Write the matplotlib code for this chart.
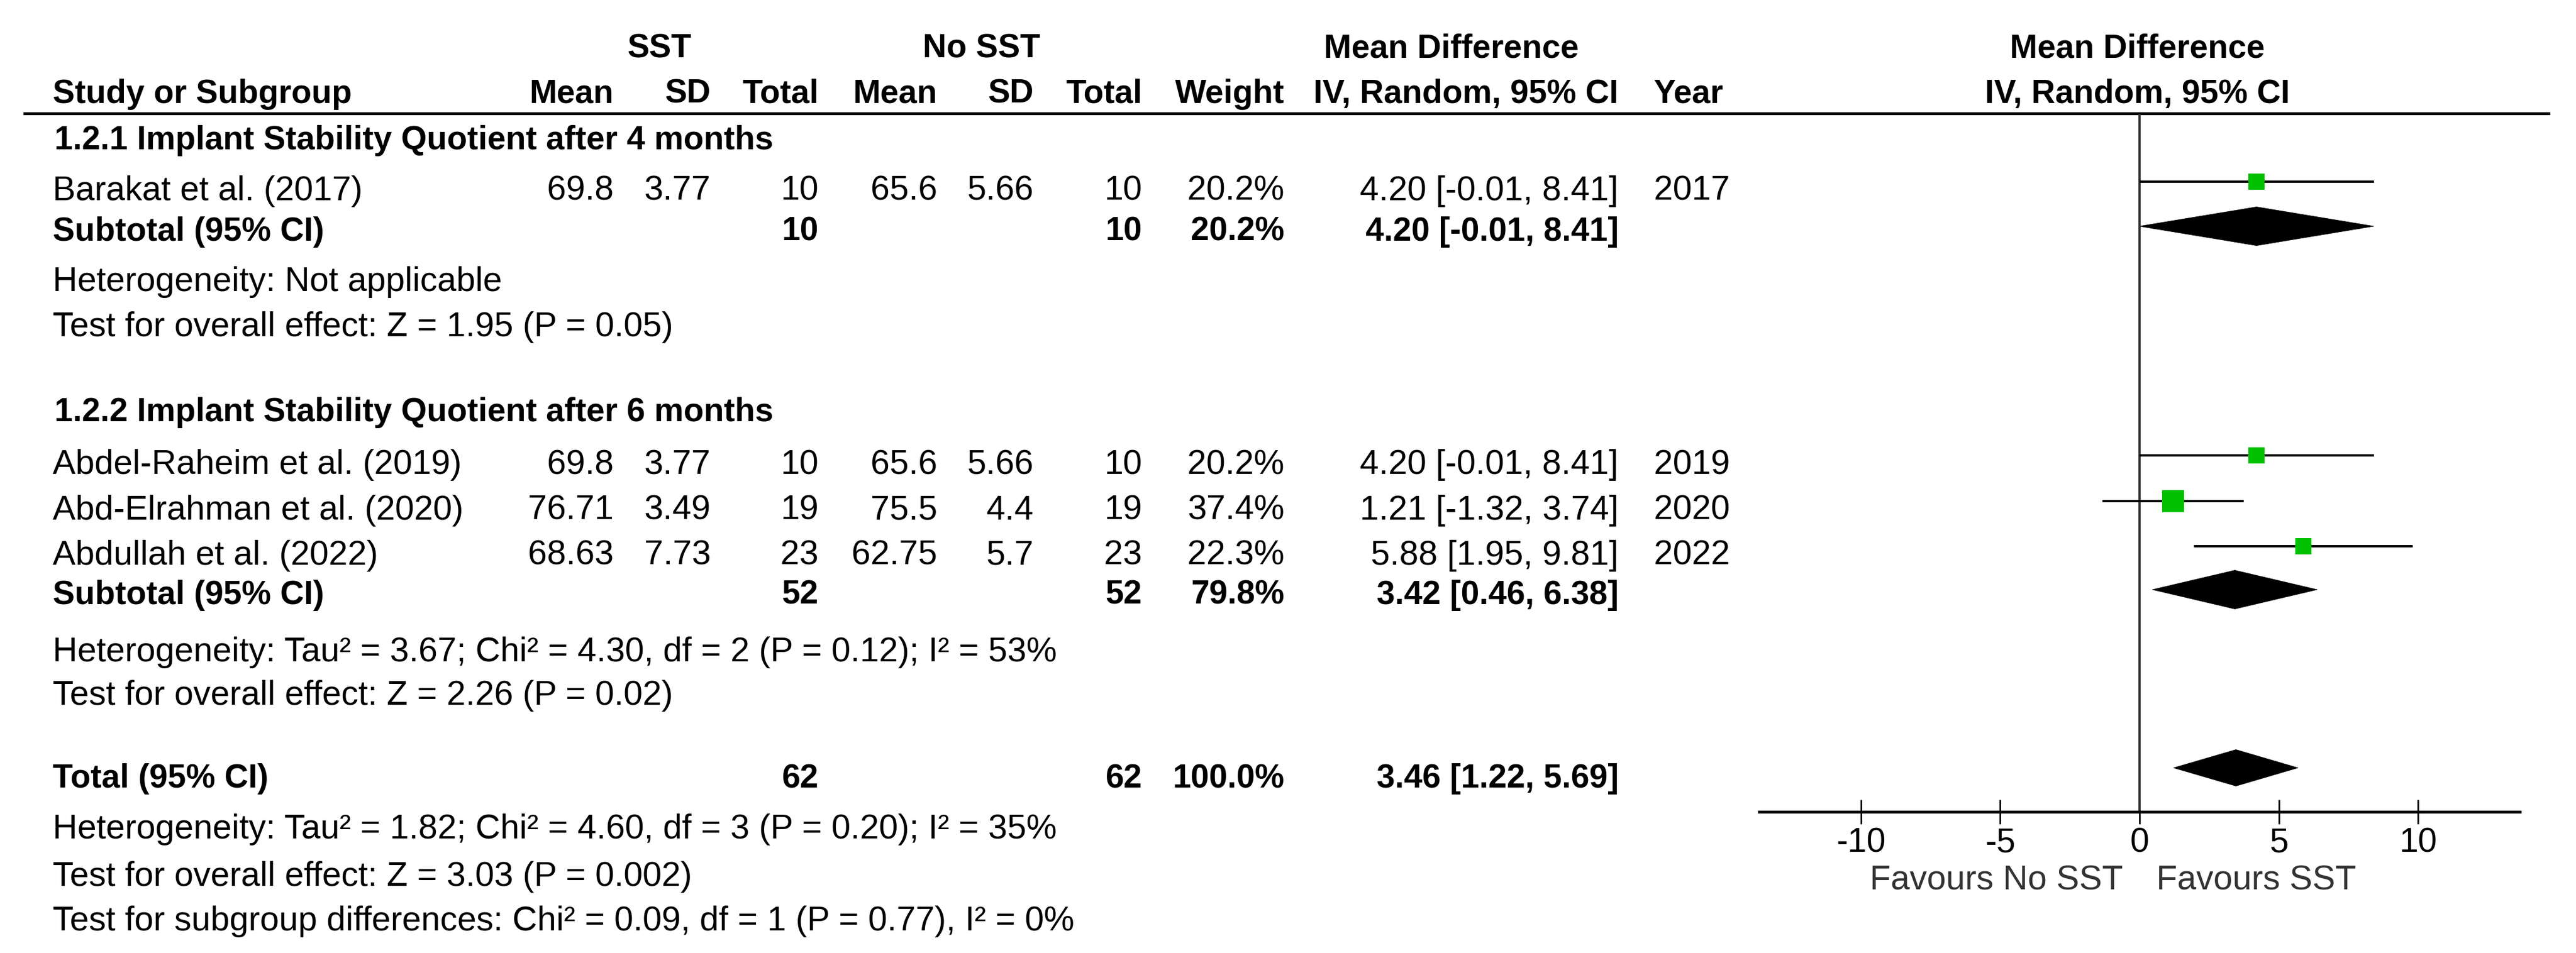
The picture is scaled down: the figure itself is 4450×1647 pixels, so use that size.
import matplotlib
matplotlib.use("Agg")
import matplotlib.pyplot as plt
from matplotlib.patches import Polygon

plt.rcParams['font.family'] = ['Liberation Sans', 'DejaVu Sans']
plt.rcParams['axes.unicode_minus'] = False

W, H = 4450, 1647
FS = 42.6      # regular text
FS_B = 41.0    # bold text

# study level data
studies = ["Barakat et al. (2017)", "Abdel-Raheim et al. (2019)",
           "Abd-Elrahman et al. (2020)", "Abdullah et al. (2022)"]
sst_mean = [69.8, 69.8, 76.71, 68.63]
sst_sd = [3.77, 3.77, 3.49, 7.73]
sst_n = [10, 10, 19, 23]
no_mean = [65.6, 65.6, 75.5, 62.75]
no_sd = [5.66, 5.66, 4.4, 5.7]
no_n = [10, 10, 19, 23]
weight = [20.2, 20.2, 37.4, 22.3]
md = [4.20, 4.20, 1.21, 5.88]
md_lo = [-0.01, -0.01, -1.32, 1.95]
md_hi = [8.41, 8.41, 3.74, 9.81]
year = [2017, 2019, 2020, 2022]

# subgroups
sub_names = ["1.2.1 Implant Stability Quotient after 4 months",
             "1.2.2 Implant Stability Quotient after 6 months"]
sub_sst_n = [10, 52]
sub_no_n = [10, 52]
sub_weight = [20.2, 79.8]
sub_md = [4.20, 3.42]
sub_lo = [-0.01, 0.46]
sub_hi = [8.41, 6.38]
sub_het = ["Heterogeneity: Not applicable",
           "Heterogeneity: Tau\u00b2 = 3.67; Chi\u00b2 = 4.30, df = 2 (P = 0.12); I\u00b2 = 53%"]
sub_test = ["Test for overall effect: Z = 1.95 (P = 0.05)",
            "Test for overall effect: Z = 2.26 (P = 0.02)"]

# overall
tot_sst_n = 62
tot_no_n = 62
tot_weight = 100.0
tot_md, tot_lo, tot_hi = 3.46, 1.22, 5.69
tot_notes = ["Heterogeneity: Tau\u00b2 = 1.82; Chi\u00b2 = 4.60, df = 3 (P = 0.20); I\u00b2 = 35%",
             "Test for overall effect: Z = 3.03 (P = 0.002)",
             "Test for subgroup differences: Chi\u00b2 = 0.09, df = 1 (P = 0.77), I\u00b2 = 0%"]

ticks = [-10, -5, 0, 5, 10]

# layout (pixel rows, text cap centres)
study_rows = [325, 798, 877, 955]
sub_title_rows = [237, 707]
sub_rows = [395, 1023]
sub_het_rows = [482, 1122]
sub_test_rows = [560, 1197]
tot_row = 1340
tot_note_rows = [1428, 1510, 1587]
COLS = dict(sm=1060, ssd=1228, sn=1414, nm=1619, nsd=1786, nn=1973, w=2219, ci=2796, yr=2857)

fig = plt.figure(figsize=(W / 100, H / 100), dpi=100)
ax = fig.add_axes([0, 0, 1, 1])
ax.set_xlim(0, W)
ax.set_ylim(H, 0)
ax.axis("off")

def txt(x, y, s, ha="left", bold=False, color="black"):
  ax.text(x, y + 21, s, ha=ha, va="baseline", fontsize=FS_B if bold else FS,
          fontweight="bold" if bold else "normal", color=color)

# headers
txt(1139, 78, "SST", ha="center", bold=True)
txt(1696, 78, "No SST", ha="center", bold=True)
txt(2507, 78, "Mean Difference", ha="center", bold=True)
txt(3692, 78, "Mean Difference", ha="center", bold=True)
txt(91, 157, "Study or Subgroup", bold=True)
for key, lab in [("sm", "Mean"), ("ssd", "SD"), ("sn", "Total"), ("nm", "Mean"),
                 ("nsd", "SD"), ("nn", "Total"), ("w", "Weight"), ("ci", "IV, Random, 95% CI")]:
  txt(COLS[key], 157, lab, ha="right", bold=True)
txt(COLS["yr"], 157, "Year", bold=True)
txt(3692, 157, "IV, Random, 95% CI", ha="center", bold=True)
ax.plot([40, 4405], [196, 196], color="black", lw=3.6, solid_capstyle="butt")

# study rows
for i, name in enumerate(studies):
  y = study_rows[i]
  txt(91, y, name)
  txt(COLS["sm"], y, str(sst_mean[i]), ha="right")
  txt(COLS["ssd"], y, str(sst_sd[i]), ha="right")
  txt(COLS["sn"], y, str(sst_n[i]), ha="right")
  txt(COLS["nm"], y, str(no_mean[i]), ha="right")
  txt(COLS["nsd"], y, str(no_sd[i]), ha="right")
  txt(COLS["nn"], y, str(no_n[i]), ha="right")
  txt(COLS["w"], y, f"{weight[i]:.1f}%", ha="right")
  txt(COLS["ci"], y, f"{md[i]:.2f} [{md_lo[i]:.2f}, {md_hi[i]:.2f}]", ha="right")
  txt(COLS["yr"], y, str(year[i]))

# subgroup rows
for g in range(2):
  txt(94, sub_title_rows[g], sub_names[g], bold=True)
  y = sub_rows[g]
  txt(91, y, "Subtotal (95% CI)", bold=True)
  txt(COLS["sn"], y, str(sub_sst_n[g]), ha="right", bold=True)
  txt(COLS["nn"], y, str(sub_no_n[g]), ha="right", bold=True)
  txt(COLS["w"], y, f"{sub_weight[g]:.1f}%", ha="right", bold=True)
  txt(COLS["ci"], y, f"{sub_md[g]:.2f} [{sub_lo[g]:.2f}, {sub_hi[g]:.2f}]", ha="right", bold=True)
  txt(91, sub_het_rows[g], sub_het[g])
  txt(91, sub_test_rows[g], sub_test[g])

# overall row
txt(91, tot_row, "Total (95% CI)", bold=True)
txt(COLS["sn"], tot_row, str(tot_sst_n), ha="right", bold=True)
txt(COLS["nn"], tot_row, str(tot_no_n), ha="right", bold=True)
txt(COLS["w"], tot_row, f"{tot_weight:.1f}%", ha="right", bold=True)
txt(COLS["ci"], tot_row, f"{tot_md:.2f} [{tot_lo:.2f}, {tot_hi:.2f}]", ha="right", bold=True)
for note, y in zip(tot_notes, tot_note_rows):
  txt(91, y, note)

# forest panel
AX_Y = 1403
fa = fig.add_axes([3039 / W, 0, 1314 / W, 1])
fa.set_facecolor("none")
fa.set_xlim(-13.65, 13.65)
fa.set_ylim(H, 0)
for s in ["top", "left", "right"]:
  fa.spines[s].set_visible(False)
fa.spines["bottom"].set_position(("data", AX_Y))
fa.spines["bottom"].set_linewidth(3.6)
fa.set_yticks([])
fa.set_xticks(ticks)
fa.set_xticklabels([str(t) for t in ticks])
fa.tick_params(axis="x", direction="inout", length=30, width=2.0, pad=4, labelsize=FS)

fa.vlines(0, 197, AX_Y, color="#333333", lw=2.8)

for i in range(len(studies)):
  y = study_rows[i] - 11
  fa.plot([md_lo[i], md_hi[i]], [y, y], color="black", lw=2.9, solid_capstyle="butt")
  side = 6.1 * weight[i] ** 0.5 * 0.72
  fa.plot(md[i], y, marker="s", ms=side, color="#00c000", mew=0, ls="none")

def diamond(est, lo, hi, y, h=67):
  fa.add_patch(Polygon([(lo, y), (est, y - h / 2), (hi, y), (est, y + h / 2)],
                       closed=True, facecolor="black", edgecolor="black", lw=0.5))

for g in range(2):
  diamond(sub_md[g], sub_lo[g], sub_hi[g], sub_rows[g] - 4)
diamond(tot_md, tot_lo, tot_hi, tot_row - 13, h=63)

fa.text(-0.6, 1517 + 21, "Favours No SST", ha="right", va="baseline", fontsize=FS, color="#333333")
fa.text(0.6, 1517 + 21, "Favours SST", ha="left", va="baseline", fontsize=FS, color="#333333")

fig.savefig("out.png", dpi=100)
